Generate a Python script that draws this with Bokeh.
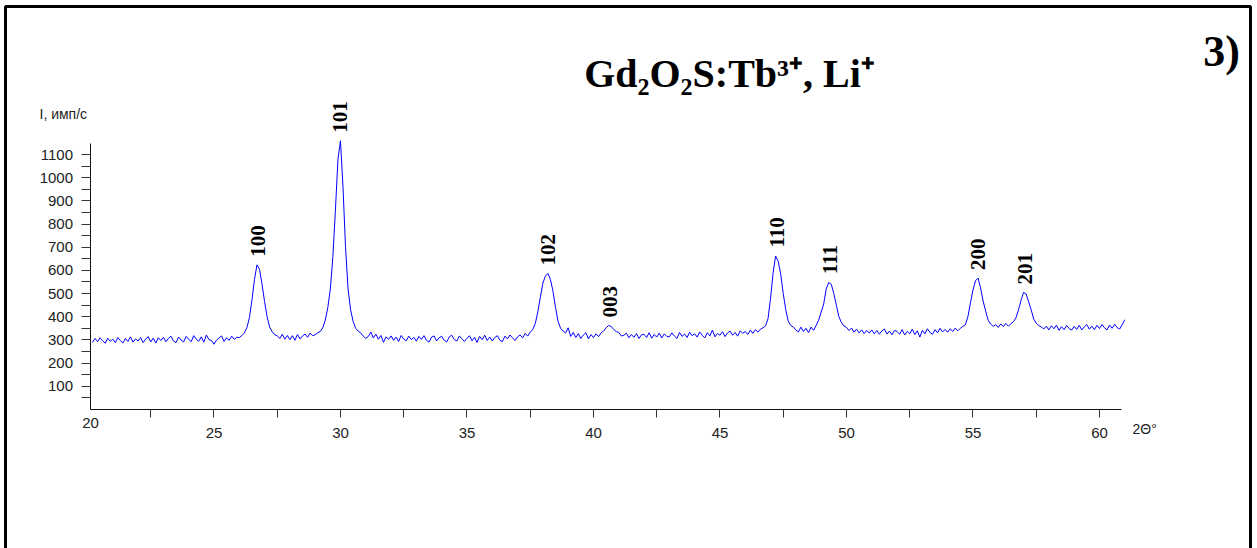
import math
from bokeh.plotting import figure
from bokeh.models import (Range1d, FixedTicker, Label, BoxAnnotation, ColumnDataSource)
from bokeh.core.properties import value
from bokeh.embed import file_html
from bokeh.resources import INLINE

# ---------------- data ----------------
scan_start = 20.2      # 2θ of the first measured point
scan_step = 0.1        # 2θ step of the scan

intensity = [
    # 20.2 - 20.9
    289, 306, 292, 309, 296, 285, 307, 294,
    # 21
    303, 288, 310, 297, 286, 306, 293, 313, 290, 304,
    # 22
    295, 310, 288, 303, 314, 291, 307, 286, 309, 297,
    # 23
    311, 292, 306, 316, 295, 288, 312, 299, 291, 315,
    # 24
    302, 292, 318, 303, 294, 313, 290, 321, 301, 297,
    # 25
    281, 299, 308, 317, 293, 309, 298, 316, 302, 311,
    # 26
    310, 318, 330, 352, 395, 470, 560, 624, 605, 540,
    # 27
    465, 400, 355, 335, 322, 318, 306, 324, 303, 319,
    # 28
    301, 318, 298, 323, 304, 317, 325, 311, 329, 318,
    # 29
    322, 330, 336, 352, 385, 440, 520, 660, 860, 1080,
    # 30
    1160, 960, 700, 520, 430, 380, 350, 338, 330, 316,
    # 31
    306, 314, 334, 308, 325, 303, 319, 289, 313, 302,
    # 32
    317, 298, 312, 293, 319, 303, 296, 316, 301, 311,
    # 33
    294, 315, 302, 318, 298, 290, 312, 317, 295, 309,
    # 34
    316, 298, 291, 313, 320, 301, 295, 317, 305, 293,
    # 35
    306, 318, 296, 311, 289, 315, 301, 320, 297, 312,
    # 36
    295, 310, 318, 299, 292, 316, 304, 321, 309, 297,
    # 37
    313, 321, 308, 328, 316, 333, 345, 370, 420, 484,
    # 38
    545, 575, 587, 560, 510, 440, 380, 350, 338, 330,
    # 39
    352, 315, 332, 310, 327, 306, 321, 331, 304, 323,
    # 40
    310, 326, 314, 330, 338, 352, 362, 358, 345, 336,
    # 41
    332, 317, 319, 329, 309, 323, 311, 327, 306, 322,
    # 42
    324, 310, 331, 307, 323, 312, 329, 308, 326, 315,
    # 43
    313, 330, 316, 306, 332, 315, 325, 310, 333, 318,
    # 44
    326, 312, 334, 319, 309, 331, 317, 342, 313, 328,
    # 45
    320, 335, 314, 330, 338, 320, 332, 316, 339, 328,
    # 46
    336, 323, 342, 328, 344, 334, 346, 352, 360, 392,
    # 47
    480, 590, 662, 640, 585, 500, 430, 380, 362, 355,
    # 48
    343, 334, 355, 336, 350, 331, 355, 341, 362, 385,
    # 49
    420, 455, 520, 548, 540, 500, 450, 400, 375, 360,
    # 50
    354, 340, 351, 333, 346, 330, 343, 327, 341, 329,
    # 51
    343, 326, 340, 324, 339, 347, 325, 338, 322, 341,
    # 52
    336, 324, 344, 321, 337, 326, 346, 323, 339, 312,
    # 53
    341, 326, 348, 332, 324, 344, 330, 350, 334, 345,
    # 54
    333, 348, 336, 351, 339, 350, 358, 365, 400, 460,
    # 55
    515, 555, 567, 525, 468, 425, 385, 368, 358, 366,
    # 56
    354, 369, 357, 371, 359, 370, 378, 395, 430, 470,
    # 57
    505, 498, 465, 430, 390, 372, 362, 356, 347, 359,
    # 58
    343, 361, 348, 364, 341, 357, 344, 362, 349, 342,
    # 59
    358, 345, 363, 343, 356, 366, 346, 359, 344, 363,
    # 60
    349, 366, 352, 343, 364, 350, 367, 353, 347, 366,
    # 61.0
    387,
]

peak_labels = ["100", "101", "102", "003", "110", "111", "200", "201"]
peak_2theta = [26.73, 29.98, 38.20, 40.65, 47.25, 49.33, 55.20, 57.04]
peak_intensity = [624, 1160, 587, 362, 664, 549, 567, 505]

x_tick_values = [22.5, 25, 27.5, 30, 32.5, 35, 37.5, 40, 42.5, 45, 47.5, 50, 52.5, 55, 57.5, 60]
x_tick_labels = ["", "25", "", "30", "", "35", "", "40", "", "45", "", "50", "", "55", "", "60"]
y_tick_values = [50, 100, 150, 200, 250, 300, 350, 400, 450, 500, 550, 600, 650, 700, 750,
                 800, 850, 900, 950, 1000, 1050, 1100]
y_tick_labels = ["", "100", "", "200", "", "300", "", "400", "", "500", "", "600", "", "700", "",
                 "800", "", "900", "", "1000", "", "1100"]

title_text = "Gd\u2082O\u2082S:Tb\u00b3\u207a, Li\u207a"
panel_text = "3)"
y_title = "I, имп/с"
x_title = "2\u0398\u00b0"
x_first_label = "20"

# ---------------- layout (pixels) ----------------
W, H = 1257, 548
PX_PER_DEG = 25.3
PX_PER_COUNT = 0.2315
ORIGIN_X = 86.97     # pixel column of 2θ = 20
ORIGIN_Y = 408.8     # pixel row of I = 0


def dx(px):
    return 20 + (px - ORIGIN_X) / PX_PER_DEG


def dy(py):
    return (ORIGIN_Y - py) / PX_PER_COUNT


two_theta = [round(scan_start + scan_step * i, 2) for i in range(len(intensity))]

p = figure(width=W, height=H, output_backend="svg", toolbar_location=None, title=None,
           x_range=Range1d(dx(0), dx(W)), y_range=Range1d(dy(H), dy(0)),
           min_border_left=0, min_border_right=0, min_border_top=0, min_border_bottom=0)
p.outline_line_color = None
p.background_fill_color = "white"
p.border_fill_color = "white"
p.xgrid.visible = False
p.ygrid.visible = False

p.line(two_theta, intensity, line_color="#0000ff", line_width=1)

src = ColumnDataSource(dict(x=peak_2theta, y=peak_intensity, t=peak_labels))
p.text("x", "y", text="t", source=src, angle=math.pi / 2, text_align="left",
       text_baseline="middle", y_offset=-8, text_font=value("Liberation Serif"),
       text_font_style="bold", text_font_size="21px", text_color="black")

for ax in (p.xaxis[0], p.yaxis[0]):
    ax.axis_line_color = "#111111"
    ax.axis_line_width = 1
    ax.major_tick_line_color = "#333333"
    ax.minor_tick_line_color = None
    ax.major_tick_in = 0
    ax.major_label_text_font = "Liberation Sans"
    ax.major_label_text_font_size = "15px"
    ax.major_label_text_color = "#222222"

xa = p.xaxis[0]
xa.fixed_location = 0
xa.ticker = FixedTicker(ticks=x_tick_values)
xa.major_label_overrides = {v: l for v, l in zip(x_tick_values, x_tick_labels)}
xa.major_tick_out = 8
xa.major_label_standoff = 11
xa.bounds = (20.1, 60.87)

ya = p.yaxis[0]
ya.fixed_location = 20.1
ya.ticker = FixedTicker(ticks=y_tick_values)
ya.major_label_overrides = {v: l for v, l in zip(y_tick_values, y_tick_labels)}
ya.major_tick_out = 9
ya.major_label_standoff = 8
ya.bounds = (0, 1150)

# texts around the plot area
p.add_layout(Label(x=dx(729), y=dy(73), text=title_text,
                   text_align="center", text_baseline="alphabetic",
                   text_font="Liberation Serif", text_font_style="bold",
                   text_font_size="40px", text_color="black"))
p.add_layout(Label(x=dx(1221), y=dy(51), text=panel_text,
                   text_align="center", text_baseline="alphabetic",
                   text_font="Liberation Serif", text_font_style="bold",
                   text_font_size="44px", text_color="black"))
p.add_layout(Label(x=dx(39), y=dy(113), text=y_title,
                   text_align="left", text_baseline="middle",
                   text_font="Liberation Sans", text_font_size="14px", text_color="#222222"))
p.add_layout(Label(x=dx(1132), y=dy(428), text=x_title,
                   text_align="left", text_baseline="middle",
                   text_font="Liberation Sans", text_font_size="14px", text_color="#222222"))
p.add_layout(Label(x=dx(90), y=dy(422), text=x_first_label,
                   text_align="center", text_baseline="middle",
                   text_font="Liberation Sans", text_font_size="15px", text_color="#222222"))

# page frame
p.add_layout(BoxAnnotation(left=dx(5), right=dx(1250), top=dy(6), bottom=dy(700),
                           fill_color=None, fill_alpha=0, line_color="black",
                           line_alpha=1, line_width=3))

open("out.html", "w").write(file_html(p, INLINE))
